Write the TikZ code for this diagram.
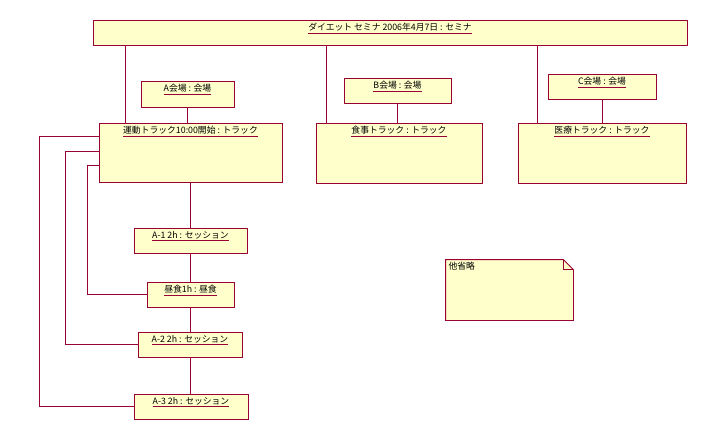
\documentclass[tikz,border=0pt]{standalone}
\usepackage{fontspec}
\setmainfont{Noto Sans CJK JP}
\usetikzlibrary{positioning}

\definecolor{umlline}{RGB}{153,0,51}
\definecolor{umlfill}{RGB}{255,255,204}

% object name, underlined in the line colour
\newcommand{\objname}[1]{{\color{umlline}\underline{\color{black}#1}}}

\begin{document}
\begin{tikzpicture}[
		x = 1pt, y = -1pt, % pixel grid
		line width = 0.8pt, % line style
		font=\fontsize{8.8}{10}\selectfont
		]
		
		\tikzstyle{object}=[
		rectangle,
		draw = umlline,
		fill = umlfill,
		line width = 0.8pt,
		inner sep = 0pt
		]
		\tikzstyle{link}=[umlline]
		\tikzstyle{title}=[anchor=north, inner sep=3.5pt]
		
		\useasboundingbox (0,0) rectangle (720,440);
		
		% seminar
		\node[object, minimum width=594pt, minimum height=25pt,
			label={[title]north:\objname{ダイエット セミナ 2006年4月7日 : セミナ}}]
			(seminar) at (390,32.5) {};
		
		% halls
		\node[object, minimum width=93pt, minimum height=26pt,
			label={[title]north:\objname{A会場 : 会場}}]
			(hallA) at (187.5,94) {};
		\node[object, minimum width=107pt, minimum height=25pt,
			label={[title]north:\objname{B会場 : 会場}}]
			(hallB) at (397.5,90.5) {};
		\node[object, minimum width=108pt, minimum height=25pt,
			label={[title]north:\objname{C会場 : 会場}}]
			(hallC) at (602,86.5) {};
		
		% tracks
		\node[object, minimum width=183pt, minimum height=59pt,
			label={[title]north:\objname{運動トラック10:00開始 : トラック}}]
			(trackA) at (190.5,152.5) {};
		\node[object, minimum width=166pt, minimum height=60pt,
			label={[title]north:\objname{食事トラック : トラック}}]
			(trackB) at (399,153) {};
		\node[object, minimum width=168pt, minimum height=60pt,
			label={[title]north:\objname{医療トラック : トラック}}]
			(trackC) at (602,153) {};
		
		% sessions
		\node[object, minimum width=113pt, minimum height=25pt,
			label={[title]north:\objname{A-1 2h : セッション}}]
			(sessA1) at (190.5,240.5) {};
		\node[object, minimum width=87pt, minimum height=25pt,
			label={[title]north:\objname{昼食1h : 昼食}}]
			(lunch) at (190.5,294.5) {};
		\node[object, minimum width=104pt, minimum height=25pt,
			label={[title]north:\objname{A-2 2h : セッション}}]
			(sessA2) at (190,344.5) {};
		\node[object, minimum width=114pt, minimum height=25pt,
			label={[title]north:\objname{A-3 2h : セッション}}]
			(sessA3) at (191,406.5) {};
		
		% note
		\node[minimum width=127pt, minimum height=60pt, inner sep=0pt] (note) at (509.5,290) {};
		\draw[umlline, fill=umlfill] (note.north west) -- ([xshift=-10pt]note.north east)
			-- ([yshift=-10pt]note.north east) -- (note.south east)
			-- (note.south west) -- cycle;
		\draw[umlline] ([xshift=-10pt]note.north east) |- ([yshift=-10pt]note.north east);
		\node[anchor=north west, inner sep=2.5pt] (noteText) at (note.north west) {他省略};
		
		% link ends on the track tops
		\coordinate (topA) at ([xshift=27pt]trackA.north west);
		\coordinate (topB) at ([xshift=11pt]trackB.north west);
		\coordinate (topC) at ([xshift=20pt]trackC.north west);
		
		\path[link]
		(topA) edge (topA |- seminar.south)
		(topB) edge (topB |- seminar.south)
		(topC) edge (topC |- seminar.south)
		(hallA.south) edge (hallA.south |- trackA.north)
		(hallB.south) edge (hallB.south |- trackB.north)
		(hallC.south) edge (hallC.south |- trackC.north)
		(trackA.south) edge (trackA.south |- sessA1.north)
		(sessA1.south) edge (sessA1.south |- lunch.north)
		(lunch.south) edge (lunch.south |- sessA2.north)
		(sessA2.south) edge (sessA2.south |- sessA3.north)
		;
		
		\draw[link] ([yshift=-14pt]trackA.north west) -- ++(-59,0) |- (sessA3.west);
		\draw[link] ([yshift=-29pt]trackA.north west) -- ++(-33,0) |- (sessA2.west);
		\draw[link] ([yshift=-43pt]trackA.north west) -- ++(-11,0) |- (lunch.west);
	\end{tikzpicture}
\end{document}
